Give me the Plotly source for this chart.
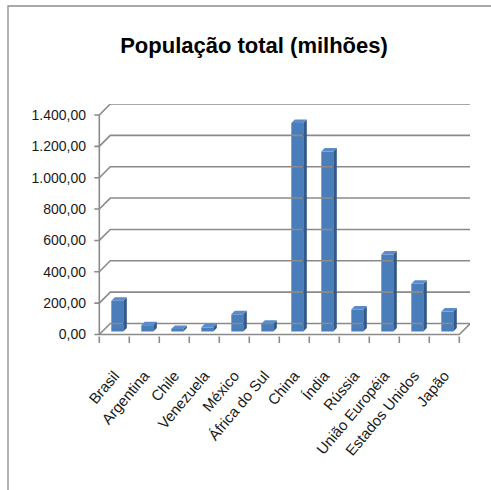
import plotly.graph_objects as go

# ---------------- data ----------------
categories = ["Brasil", "Argentina", "Chile", "Venezuela", "México", "África do Sul",
              "China", "Índia", "Rússia", "União Européia", "Estados Unidos", "Japão"]
population = [196.3, 40.5, 16.5, 26.4, 109.9, 48.8, 1330.0, 1148.0, 140.7, 491.0, 304.0, 127.3]
y_ticks = [0, 200, 400, 600, 800, 1000, 1200, 1400]
y_tick_labels = ["0,00", "200,00", "400,00", "600,00", "800,00", "1.000,00", "1.200,00", "1.400,00"]
title_text = "População total (milhões)"

# ---------------- geometry (pixels) ----------------
W, H = 491, 490
L, R, T, B = 91, 21, 104, 146
plot_w, plot_h = W - L - R, H - T - B
axis_x_px = 99.3            # front vertical axis
cat_px = 30.0               # width of one category
zero_px = 334.5             # front zero line (from top)
top_px = 115.0              # front 1400 line
k = (zero_px - top_px) / 1400.0   # px per unit
depth_px = 11.0             # oblique depth of the chart
front_off_px = 3.0          # bar front face offset
bar_depth_px = 3.5
bar_w = 12.0 / cat_px

n = len(categories)
x_lo = -0.5 - (axis_x_px - L) / cat_px
x_hi = x_lo + plot_w / cat_px
y_lo = -(T + plot_h - zero_px) / k
y_hi = (zero_px - T) / k

Dx, Dy = depth_px / cat_px, depth_px / k
fx, fy = front_off_px / cat_px, front_off_px / k
bx, by = bar_depth_px / cat_px, bar_depth_px / k

GRID = "#8a8a8a"
FONT = "Liberation Sans, Arial, sans-serif"

# gridlines (side wall diagonal + back wall line)
gx, gy = [], []
for v in y_ticks:
    gx += [-0.5 - 5 / cat_px, -0.5, -0.5 + Dx, n - 0.5 + Dx, None]
    gy += [v, v, v + Dy, v + Dy, None]
# front y axis
gx += [-0.5, -0.5, None]
gy += [0, 1400, None]
# floor front edge and right edge
gx += [-0.5, n - 0.5, n - 0.5 + Dx, None]
gy += [0, 0, Dy, None]
# category tick marks below the floor
for i in range(n + 1):
    b = i - 0.5
    gx += [b, b, None]
    gy += [-2 / k, -8.5 / k, None]

fig = go.Figure()
fig.add_trace(go.Scatter(x=gx, y=gy, mode="lines", line=dict(color=GRID, width=1.6),
                         hoverinfo="skip", showlegend=False))

# bar front faces
xc = [i + fx for i in range(n)]
fig.add_trace(go.Bar(x=xc, y=population, base=[fy] * n, width=bar_w,
                     marker=dict(color="#4a7ebb", line=dict(width=0)), showlegend=False))

# side and top faces
sx, sy, tx, ty = [], [], [], []
for i, v in enumerate(population):
    xl = xc[i] - bar_w / 2
    xr = xc[i] + bar_w / 2
    sx += [xr, xr + bx, xr + bx, xr, xr, None]
    sy += [fy, fy + by, fy + v + by, fy + v, fy, None]
    tx += [xl, xr, xr + bx, xl + bx, xl, None]
    ty += [fy + v, fy + v, fy + v + by, fy + v + by, fy + v, None]
fig.add_trace(go.Scatter(x=sx, y=sy, mode="lines", fill="toself", fillcolor="#33588a",
                         line=dict(width=0, color="#33588a"), hoverinfo="skip", showlegend=False))
fig.add_trace(go.Scatter(x=tx, y=ty, mode="lines", fill="toself", fillcolor="#5b8bc8",
                         line=dict(width=0, color="#5b8bc8"), hoverinfo="skip", showlegend=False))

fig.update_layout(
    width=W, height=H,
    margin=dict(l=L, r=R, t=T, b=B, pad=0),
    paper_bgcolor="white", plot_bgcolor="white",
    showlegend=False,
    title=dict(text=title_text, x=254 / W, xanchor="center", xref="container",
               y=1 - 45 / H, yanchor="middle", yref="container",
               font=dict(family=FONT, size=22, color="black", weight="bold")),
    xaxis=dict(range=[x_lo, x_hi], tickmode="array", tickvals=list(range(n)), ticktext=categories,
               tickangle=-50, ticks="", showgrid=False, zeroline=False, showline=False,
               ticklabelstandoff=19,
               tickfont=dict(family=FONT, size=15, color="#1a1a1a")),
    yaxis=dict(range=[y_lo, y_hi], tickmode="array", tickvals=y_ticks, ticktext=y_tick_labels,
               ticks="", showgrid=False, zeroline=False, showline=False,
               ticklabelstandoff=4,
               tickfont=dict(family=FONT, size=14, color="#1a1a1a")),
    shapes=[dict(type="rect", xref="paper", yref="paper",
                 x0=(8 - L) / plot_w, x1=2.0,
                 y0=-2.0, y1=(T + plot_h - 6) / plot_h,
                 line=dict(color="#8c8c8c", width=1.3), fillcolor="rgba(0,0,0,0)", layer="below")],
)

fig.write_html("out.html")
